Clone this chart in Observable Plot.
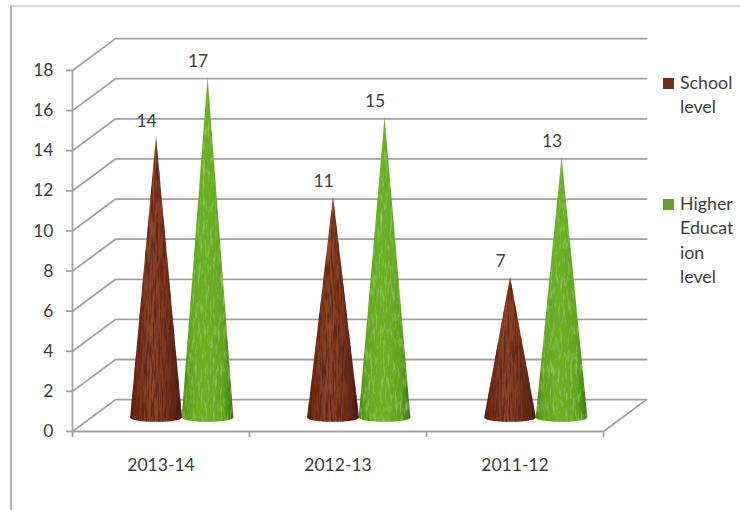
<!DOCTYPE html>
<html>
<head>
<meta charset="utf-8">
<script src="https://cdn.jsdelivr.net/npm/d3@7"></script>
<script src="https://cdn.jsdelivr.net/npm/@observablehq/plot@0.6"></script>
<style>
  html, body { margin: 0; padding: 0; background: #fff; }
  #page { position: relative; width: 740px; height: 510px; overflow: hidden; font-family: Lato, "Open Sans", sans-serif; }
  #page svg { position: absolute; left: 0; top: 0; background: transparent; }
  .frame { position: absolute; left: 10px; top: 5px; width: 730px; height: 505px; border-top: 2px solid #d6d6d6; border-left: 2px solid #b0b0b0; box-sizing: border-box; }
  .key { position: absolute; left: 663px; width: 11px; height: 11px; }
  .keytext { position: absolute; left: 680px; font-size: 17.8px; line-height: 24.3px; color: #3e3e3e; }
</style>
</head>
<body>
<div id="page"><div class="frame"></div></div>
<script>
const categories = ["2013-14", "2012-13", "2011-12"];
const schoolLevel = [14, 11, 7];
const higherEducationLevel = [17, 15, 13];
const yTicks = [0, 2, 4, 6, 8, 10, 12, 14, 16, 18];
const xTicks = [0, 1, 2, 3];

// Depth of the pseudo-3D box and cone placement, in scale units
const depthX = 0.243, depthY = 1.59;
const baseY = 0.70, radiusX = 0.146, radiusY = 0.22;
const grid = "#a2a2a2", ink = "#3e3e3e";

function cone(category, offset, value) {
  const cx = category + offset;
  const pts = [{x: cx, y: baseY + value, key: `${category}`}];
  for (const t of d3.range(0, 1.0001, 1 / 24)) {
    pts.push({
      x: cx + radiusX * Math.cos(Math.PI * t),
      y: baseY - radiusY * Math.sin(Math.PI * t),
      key: `${category}`
    });
  }
  return pts;
}
const schoolCones = schoolLevel.flatMap((v, i) => cone(i, 0.472, v));
const higherCones = higherEducationLevel.flatMap((v, i) => cone(i, 0.763, v));
const labels = [
  ...schoolLevel.map((v, i) => ({x: i + 0.472, y: baseY + v, v})),
  ...higherEducationLevel.map((v, i) => ({x: i + 0.763, y: baseY + v, v}))
];
const wall = yTicks.flatMap((t) => [
  {x: 0, y: t, t},
  {x: depthX, y: t + depthY, t},
  {x: 3 + depthX, y: t + depthY, t}
]);
const floorEdge = [{x: 3, y: 0}, {x: 3 + depthX, y: depthY}];

const plot = Plot.plot({
  width: 740,
  height: 510,
  marginLeft: 72,
  marginRight: 137,
  marginTop: 70,
  marginBottom: 79,
  style: {background: "transparent", fontFamily: "Lato, 'Open Sans', sans-serif", fontSize: "17.5px", color: ink},
  x: {domain: [0, 3]},
  y: {domain: [0, 18]},
  marks: [
    Plot.line(wall, {x: "x", y: "y", z: "t", stroke: grid, strokeWidth: 1.8}),
    Plot.line(floorEdge, {x: "x", y: "y", stroke: grid, strokeWidth: 1.8}),
    Plot.ruleX([0], {y1: 0, y2: 18, stroke: grid, strokeWidth: 1.8}),
    Plot.ruleY([0], {x1: 0, x2: 3, stroke: grid, strokeWidth: 1.8}),
    Plot.axisY({ticks: yTicks, tickSize: 6, tickPadding: 13, stroke: grid, strokeWidth: 1.8, strokeOpacity: 1, label: null, fill: ink}),
    Plot.axisX({ticks: xTicks, tickSize: 6, tickFormat: () => "", stroke: grid, strokeWidth: 1.8, strokeOpacity: 1, label: null}),
    Plot.axisX({ticks: [0.5, 1.5, 2.5], tickSize: 0, tickPadding: 27, tickFormat: (d) => categories[Math.floor(d)], label: null, fill: ink}),
    Plot.line(schoolCones, {x: "x", y: "y", z: "key", fill: "url(#brownGrad)", stroke: "none", imageFilter: "url(#wood)"}),
    Plot.line(higherCones, {x: "x", y: "y", z: "key", fill: "url(#greenGrad)", stroke: "none", imageFilter: "url(#grass)"}),
    Plot.text(labels, {x: "x", y: "y", text: "v", dx: -9.5, dy: -15.5, fill: ink, fontSize: 17.5})
  ]
});

plot.insertAdjacentHTML("afterbegin", `
<defs>
  <linearGradient id="brownGrad" x1="0" x2="1" y1="0" y2="0">
    <stop offset="0" stop-color="#4e1a0c"/><stop offset="0.12" stop-color="#742f18"/><stop offset="0.4" stop-color="#93482a"/>
    <stop offset="0.7" stop-color="#7e3820"/><stop offset="1" stop-color="#42150a"/>
  </linearGradient>
  <linearGradient id="greenGrad" x1="0" x2="1" y1="0" y2="0">
    <stop offset="0" stop-color="#458412"/><stop offset="0.15" stop-color="#62a61e"/><stop offset="0.45" stop-color="#6cb024"/>
    <stop offset="0.8" stop-color="#62a41e"/><stop offset="1" stop-color="#3c7410"/>
  </linearGradient>
  <filter id="wood" x="-5%" y="-5%" width="110%" height="110%">
    <feTurbulence type="fractalNoise" baseFrequency="0.55 0.05" numOctaves="3" seed="4" result="n"/>
    <feColorMatrix in="n" type="matrix" values="0 0 0 0 0.12  0 0 0 0 0.02  0 0 0 0 0.01  3.2 0 0 0 -1.2" result="o"/>
    <feComposite in="o" in2="SourceAlpha" operator="in" result="t"/>
    <feMerge result="m"><feMergeNode in="SourceGraphic"/><feMergeNode in="t"/></feMerge>
    <feGaussianBlur in="m" stdDeviation="0.4"/>
  </filter>
  <filter id="grass" x="-5%" y="-5%" width="110%" height="110%">
    <feTurbulence type="fractalNoise" baseFrequency="0.4 0.08" numOctaves="3" seed="9" result="n"/>
    <feColorMatrix in="n" type="matrix" values="0 0 0 0 0.55  0 0 0 0 0.8  0 0 0 0 0.25  1.1 0 0 0 -0.55" result="o"/>
    <feComposite in="o" in2="SourceAlpha" operator="in" result="t"/>
    <feMerge result="m"><feMergeNode in="SourceGraphic"/><feMergeNode in="t"/></feMerge>
    <feGaussianBlur in="m" stdDeviation="0.4"/>
  </filter>
</defs>`);

const page = document.getElementById("page");
page.append(plot);
page.insertAdjacentHTML("beforeend", `
  <div class="key" style="top:78px;background:#6b2f1a"></div>
  <div class="keytext" style="top:70px">School<br>level</div>
  <div class="key" style="top:199px;background:#64a02c"></div>
  <div class="keytext" style="top:191px">Higher<br>Educat<br>ion<br>level</div>
`);
</script>
</body>
</html>
